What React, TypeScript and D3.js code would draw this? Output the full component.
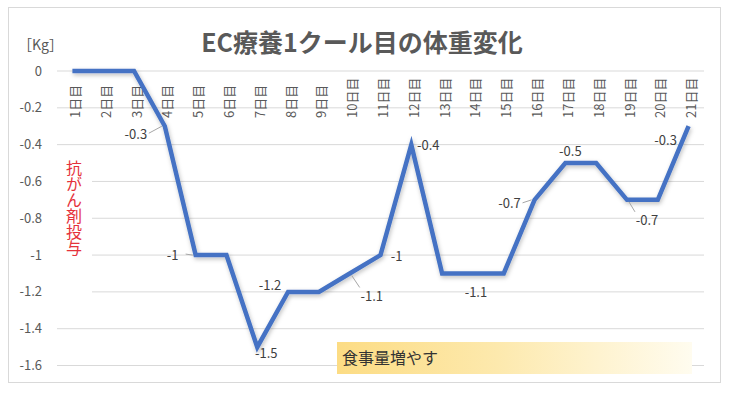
import React from 'react';
import * as d3 from 'd3';

// 1日目〜21日目の体重変化 (kg)
const days: string[] = d3.range(1, 22).map(d => `${d}日目`);
const weightChange: number[] = [
  0, 0, 0, -0.3, -1, -1, -1.5, -1.2, -1.2, -1.1,
  -1, -0.4, -1.1, -1.1, -1.1, -0.7, -0.5, -0.5, -0.7, -0.7, -0.3,
];
const yTicks: number[] = [0, -0.2, -0.4, -0.6, -0.8, -1, -1.2, -1.4, -1.6];

// which points carry a data label
const labelDays: number[] = [4, 5, 7, 8, 10, 11, 12, 14, 16, 17, 19, 21];
// label placement relative to the point: [dx, dy, leader line?]
const labelPlacement: [number, number, boolean][] = [
  [-29, 8, true], [-23, 0, true], [9, 6, false], [-18, -6, false],
  [22, 23, true], [16, 1, false], [17, 1, false], [3, 19, false],
  [-25, 4, true], [5, -12, false], [20, 21, true], [-23, 14, false],
];

const title = 'EC療養1クール目の体重変化';
const unitLabel = '［Kg］';
const noteDrug = '抗がん剤投与';
const noteFood = '食事量増やす';

const W = 740;
const H = 394;
const plot = { left: 57, right: 704, top: 71, bottom: 365.5 };
const FONT = '"Noto Sans CJK JP", "Noto Sans", sans-serif';

const App: React.FC = () => {
  const x = d3.scalePoint<string>()
    .domain(days)
    .range([plot.left, plot.right])
    .padding(0.5);

  const y = d3.scaleLinear()
    .domain([-1.6, 0])
    .range([plot.bottom, plot.top]);

  const line = d3.line<number>()
    .x((_, i) => x(days[i])!)
    .y(d => y(d));

  const fmt = (v: number) => (v === 0 ? '0' : d3.format('')(v).replace('−', '-'));

  return (
    <svg width={W} height={H} style={{ position: 'absolute', left: 0, top: 0, fontFamily: FONT }}>
      <defs>
        <linearGradient id="foodGrad" x1="0" x2="1" y1="0" y2="0">
          <stop offset="0%" stopColor="#fcdc84" />
          <stop offset="45%" stopColor="#fde9ad" />
          <stop offset="100%" stopColor="#fffcef" />
        </linearGradient>
        <filter id="lineShadow" x="-5%" y="-5%" width="110%" height="115%">
          <feDropShadow dx="1" dy="2" stdDeviation="2" floodColor="#000" floodOpacity="0.25" />
        </filter>
      </defs>

      <rect x={8.5} y={7.5} width={712} height={375} fill="#fff" stroke="#d9d9d9" />

      <text x={362} y={52} textAnchor="middle" fontSize={25} fontWeight="bold" fill="#595959">
        {title}
      </text>
      <text x={18} y={50} fontSize={14} fill="#595959">{unitLabel}</text>

      {/* gridlines + y ticks */}
      {yTicks.map(t => (
        <g key={t}>
          <line x1={plot.left} x2={plot.right} y1={y(t)} y2={y(t)} stroke="#d9d9d9" strokeWidth={1} />
          <text x={42} y={y(t)} dy="0.35em" textAnchor="end" fontSize={13} fill="#595959">
            {fmt(t)}
          </text>
        </g>
      ))}

      {/* x category labels, rotated */}
      {days.map(d => (
        <text
          key={d}
          transform={`translate(${x(d)! + 3},118) rotate(-90)`}
          dy="0.35em"
          fontSize={13}
          fill="#595959"
        >
          {d}
        </text>
      ))}

      {/* 抗がん剤投与 text box */}
      <rect x={57} y={150} width={35} height={150} fill="#fff" />
      <text
        x={74}
        y={160}
        fontSize={16}
        fill="#e5323b"
        style={{ writingMode: 'vertical-rl', textOrientation: 'upright' } as React.CSSProperties}
      >
        {noteDrug}
      </text>

      {/* 食事量増やす box */}
      <rect x={337} y={342} width={355} height={32} fill="url(#foodGrad)" />
      <text x={342} y={364} fontSize={16} fill="#333">{noteFood}</text>

      <path
        d={line(weightChange) ?? ''}
        fill="none"
        stroke="#4472c4"
        strokeWidth={4.5}
        strokeLinejoin="miter"
        filter="url(#lineShadow)"
      />

      {/* data labels */}
      {labelDays.map((day, i) => {
        const v = weightChange[day - 1];
        const px = x(days[day - 1])!;
        const py = y(v);
        const [dx, dy, leader] = labelPlacement[i];
        const lx = px + dx;
        const ly = py + dy;
        return (
          <g key={day}>
            {leader && (
              <line
                x1={lx + (dx < 0 ? 13 : -12)}
                y1={ly + (dy > 10 ? -9 : -1)}
                x2={px + (dx < 0 ? -3 : 2)}
                y2={py + (dy > 10 ? 2 : 0)}
                stroke="#a6a6a6"
                strokeWidth={1}
              />
            )}
            <text x={lx} y={ly} dy="0.35em" textAnchor="middle" fontSize={13} fill="#404040">
              {fmt(v)}
            </text>
          </g>
        );
      })}
    </svg>
  );
};

export default App;
